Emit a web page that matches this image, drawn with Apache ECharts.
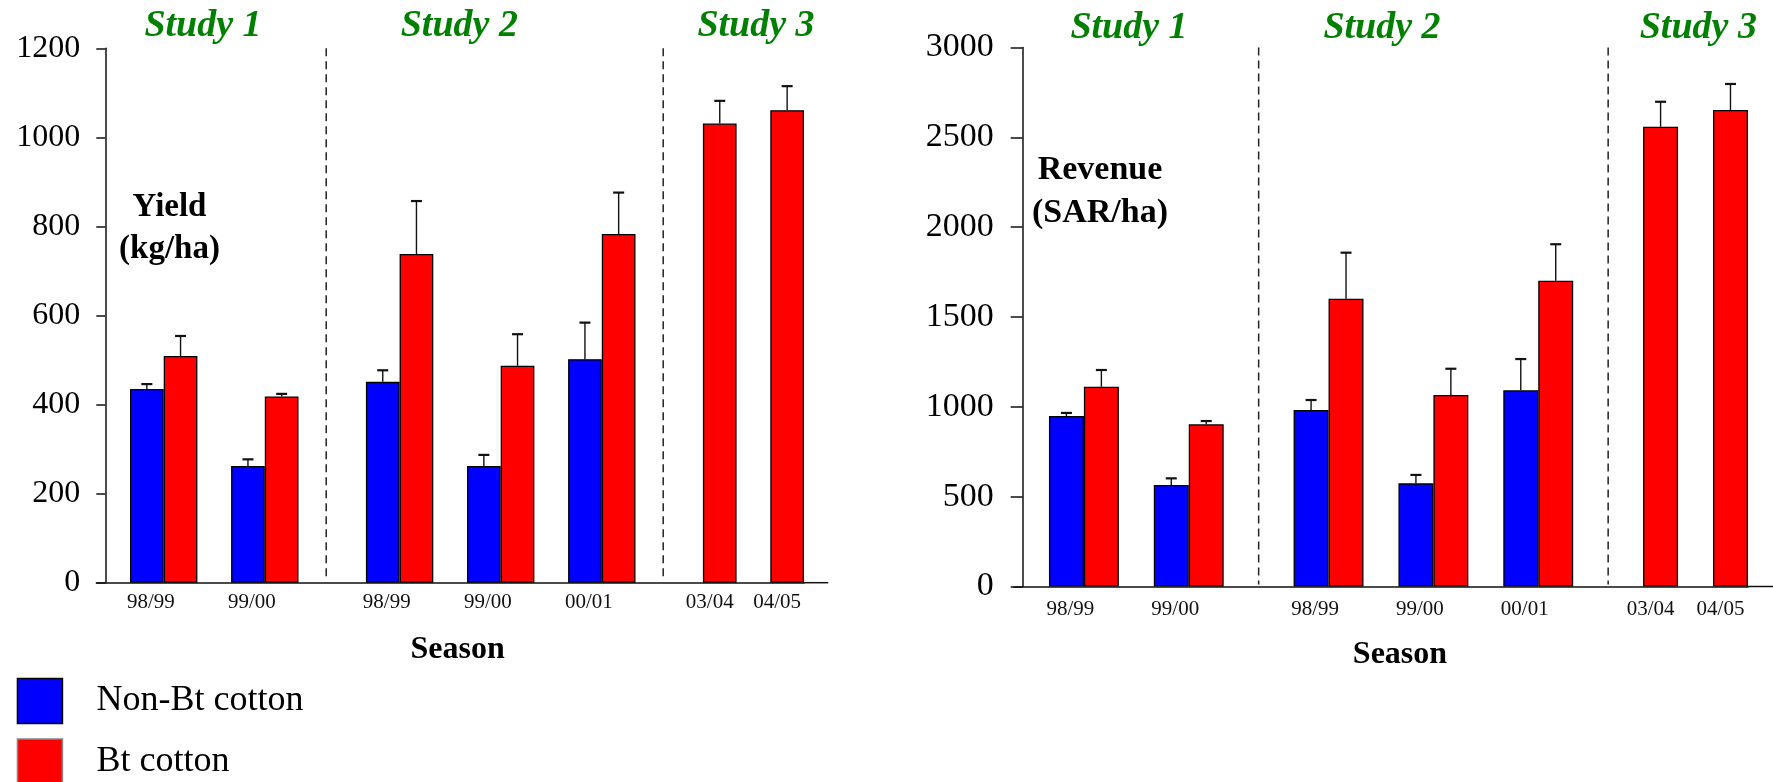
<!DOCTYPE html>
<html>
<head>
<meta charset="utf-8">
<script src="https://cdn.jsdelivr.net/npm/echarts@6/dist/echarts.min.js"></script>
<style>
  html, body { margin: 0; padding: 0; background: #ffffff; }
  #chart { width: 1773px; height: 782px; }
</style>
</head>
<body>
<div id="chart"></div>
<script>
// Seasons and the study each belongs to
const studies = ['Study 1', 'Study 2', 'Study 3'];
const seasonStudy = [0, 0, 1, 1, 1, 2, 2];
const seasons = ['98/99', '99/00', '98/99', '99/00', '00/01', '03/04', '04/05'];

// Lint yield, kg/ha (mean and standard error)
const yieldNonBt    = [435, 262, 451, 262, 502, null, null];
const yieldNonBtErr = [11, 15, 26, 25, 82, null, null];
const yieldBt       = [509, 418, 738, 487, 783, 1031, 1061];
const yieldBtErr    = [45, 6, 119, 71, 93, 51, 54];

// Revenue, SAR/ha (mean and standard error)
const revenueNonBt    = [949, 565, 982, 574, 1092, null, null];
const revenueNonBtErr = [17, 37, 56, 47, 174, null, null];
const revenueBt       = [1112, 903, 1602, 1066, 1702, 2559, 2652];
const revenueBtErr    = [93, 18, 256, 146, 203, 139, 145];

// Value axis ticks
const yieldTicks = [0, 200, 400, 600, 800, 1000, 1200];
const revenueTicks = [0, 500, 1000, 1500, 2000, 2500, 3000];

const seriesNames = ['Non-Bt cotton', 'Bt cotton'];

const SERIF = '"Liberation Serif", "Times New Roman", serif';
const BLUE = '#0000ff';
const RED = '#ff0000';
const GREEN = '#008000';

// One category slot per bar; blank slots separate seasons (one) and studies (two).
function buildSlots(nonBt, nonBtErr, bt, btErr) {
  const slots = [{ label: '' }];
  const separators = [];
  seasons.forEach((s, i) => {
    if (i > 0) {
      if (seasonStudy[i] !== seasonStudy[i - 1]) {
        separators.push(slots.length);
        slots.push({ label: '' });
      }
      slots.push({ label: '' });
    }
    if (nonBt[i] != null) {
      slots.push({ label: s, kind: 'pair', non: nonBt[i], nonErr: nonBtErr[i] });
      slots.push({ label: '', bt: bt[i], btErr: btErr[i] });
    } else {
      slots.push({ label: s, kind: 'single', bt: bt[i], btErr: btErr[i] });
    }
  });
  return { slots, separators };
}

const left = buildSlots(yieldNonBt, yieldNonBtErr, yieldBt, yieldBtErr);
const right = buildSlots(revenueNonBt, revenueNonBtErr, revenueBt, revenueBtErr);

const SLOT_L = 33.7, SLOT_R = 34.95;
const gridL = { left: 96.3, top: 48.3, width: SLOT_L * left.slots.length, height: 534.4 };
const gridR = { left: 1014, top: 47.5, width: SLOT_R * right.slots.length, height: 539 };

function renderErr(params, api) {
  const k = api.value(0), v = api.value(1), e = api.value(2);
  const base = api.coord([k, v]);
  const top = api.coord([k, v + e]);
  const half = 5.5;
  return {
    type: 'group',
    children: [
      { type: 'line', shape: { x1: base[0], y1: base[1], x2: top[0], y2: top[1] },
        style: { stroke: '#111', lineWidth: 1.4 } },
      { type: 'line', shape: { x1: top[0] - half, y1: top[1], x2: top[0] + half, y2: top[1] },
        style: { stroke: '#111', lineWidth: 2.2 } }
    ]
  };
}

// Dashed divider inside the two blank slots between studies
function makeSepRenderer(shift) {
  return function (params, api) {
    const k = api.value(0);
    const cs = params.coordSys;
    const x = api.coord([k, 0])[0] + api.size([1, 0])[0] / 2 + shift;
    return {
      type: 'line',
      shape: { x1: x, y1: cs.y, x2: x, y2: cs.y + cs.height - 2 },
      style: { stroke: '#222', lineWidth: 1.5, lineDash: [8, 5] }
    };
  };
}

function xAxisFor(layout, gridIndex, labelMargin, nameGap, namePad) {
  return {
    type: 'category',
    gridIndex,
    data: layout.slots.map((s, k) => String(k)),
    axisLine: { lineStyle: { color: '#111', width: 1.5 } },
    axisTick: { show: false },
    axisLabel: {
      interval: 0,
      margin: labelMargin,
      formatter: (v, idx) => {
        const s = layout.slots[idx];
        if (!s || !s.label) return '';
        return '{' + (s.kind === 'single' ? 's' : 'p') + '|' + s.label + '}';
      },
      rich: {
        p: { fontFamily: SERIF, fontSize: 21, color: '#111', padding: [0, 0, 0, 8] },
        s: { fontFamily: SERIF, fontSize: 21, color: '#111', padding: [0, 20, 0, 0] }
      }
    },
    name: 'Season',
    nameLocation: 'middle',
    nameGap,
    nameTextStyle: { fontFamily: SERIF, fontWeight: 'bold', fontSize: 32, color: '#000', padding: [0, 0, 0, namePad] }
  };
}

function yAxisFor(ticks, gridIndex, offset, tickLen, labelMargin, fontSize) {
  return {
    type: 'value',
    gridIndex,
    min: ticks[0],
    max: ticks[ticks.length - 1],
    interval: ticks[1] - ticks[0],
    offset,
    splitLine: { show: false },
    axisLine: { show: true, lineStyle: { color: '#111', width: 1.5 } },
    axisTick: { show: true, length: tickLen, lineStyle: { color: '#111', width: 1.5 } },
    axisLabel: {
      margin: labelMargin, fontFamily: SERIF, fontSize, color: '#000',
      formatter: v => String(v)
    }
  };
}

function seriesFor(layout, axisIndex, sepShift) {
  const barBase = {
    type: 'bar',
    xAxisIndex: axisIndex,
    yAxisIndex: axisIndex,
    barWidth: '100%',
    barGap: '-100%',
    barCategoryGap: 0
  };
  const errData = [];
  layout.slots.forEach((s, k) => {
    if (s.non != null) errData.push([k, s.non, s.nonErr]);
    if (s.bt != null) errData.push([k, s.bt, s.btErr]);
  });
  return [
    Object.assign({}, barBase, {
      name: seriesNames[0],
      itemStyle: { color: BLUE, borderColor: '#000', borderWidth: 1.3 },
      data: layout.slots.map(s => (s.non != null ? s.non : '-'))
    }),
    Object.assign({}, barBase, {
      name: seriesNames[1],
      itemStyle: { color: RED, borderColor: '#000', borderWidth: 1.3 },
      data: layout.slots.map(s => (s.bt != null ? s.bt : '-'))
    }),
    {
      type: 'custom',
      xAxisIndex: axisIndex,
      yAxisIndex: axisIndex,
      renderItem: renderErr,
      encode: { x: 0, y: 1 },
      data: errData,
      z: 5
    },
    {
      type: 'custom',
      xAxisIndex: axisIndex,
      yAxisIndex: axisIndex,
      renderItem: makeSepRenderer(sepShift),
      encode: { x: 0, y: 1 },
      data: layout.separators.map(k => [k, 0]),
      z: 1
    }
  ];
}

function studyLabel(text, x, y) {
  return {
    type: 'text', x, y,
    style: {
      text, fill: GREEN, align: 'center', verticalAlign: 'middle',
      font: 'italic bold 38px ' + SERIF
    }
  };
}

function sideLabel(text, x, y, lineHeight, size) {
  return {
    type: 'text', x, y,
    style: {
      text, fill: '#000', align: 'center', verticalAlign: 'middle', lineHeight,
      font: 'bold ' + size + 'px ' + SERIF
    }
  };
}

const chart = echarts.init(document.getElementById('chart'), null, { renderer: 'canvas' });

const leftAxisEnd = gridL.left + gridL.width;
const rightAxisEnd = gridR.left + gridR.width;

chart.setOption({
  animation: false,
  backgroundColor: '#ffffff',
  grid: [
    Object.assign({ containLabel: false }, gridL),
    Object.assign({ containLabel: false }, gridR)
  ],
  xAxis: [
    xAxisFor(left, 0, 9, 51, 15),
    xAxisFor(right, 1, 12, 52, 38)
  ],
  yAxis: [
    yAxisFor(yieldTicks, 0, -9, 9, 25, 32),
    yAxisFor(revenueTicks, 1, -8.7, 12, 29, 34)
  ],
  legend: {
    orient: 'vertical',
    left: 16.7,
    top: 677.7,
    height: 140,
    padding: 0,
    itemWidth: 45,
    itemHeight: 45,
    itemGap: 14,
    icon: 'rect',
    selectedMode: false,
    textStyle: { fontFamily: SERIF, fontSize: 36, color: '#000', padding: [0, 0, 0, 29] },
    data: [
      { name: seriesNames[0], itemStyle: { color: BLUE, borderColor: '#000', borderWidth: 1.5 } },
      { name: seriesNames[1], itemStyle: { color: RED, borderColor: '#888', borderWidth: 1.5 } }
    ]
  },
  series: seriesFor(left, 0, -6).concat(seriesFor(right, 1, 0)),
  graphic: [
    // x axis lines run a little past the last slot
    { type: 'line', shape: { x1: leftAxisEnd - 1, y1: gridL.top + gridL.height, x2: leftAxisEnd + 0.72 * SLOT_L, y2: gridL.top + gridL.height },
      style: { stroke: '#111', lineWidth: 1.5 } },
    { type: 'line', shape: { x1: rightAxisEnd - 1, y1: gridR.top + gridR.height, x2: rightAxisEnd + 0.72 * SLOT_R, y2: gridR.top + gridR.height },
      style: { stroke: '#111', lineWidth: 1.5 } },
    studyLabel(studies[0], 203, 26.5),
    studyLabel(studies[1], 459.3, 26.5),
    studyLabel(studies[2], 756, 26.5),
    studyLabel(studies[0], 1129, 28),
    studyLabel(studies[1], 1382, 28),
    studyLabel(studies[2], 1698.3, 28),
    sideLabel('Yield\n(kg/ha)', 169.5, 228.3, 42, 33),
    sideLabel('Revenue\n(SAR/ha)', 1100, 191.5, 43.5, 34)
  ]
});
</script>
</body>
</html>
